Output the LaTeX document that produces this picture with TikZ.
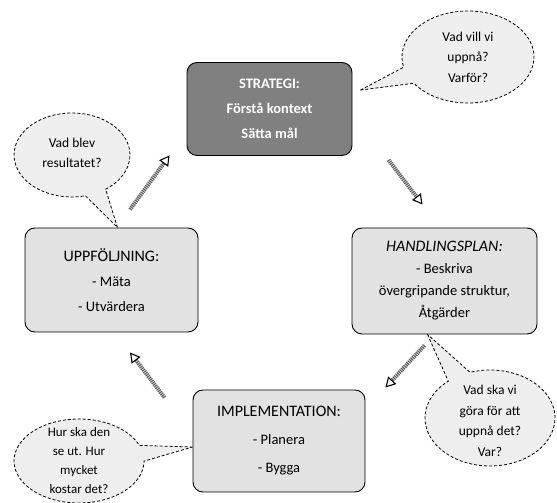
\documentclass[tikz,border=0pt]{standalone}
\usepackage{fontspec}
\setmainfont{Carlito}
\usetikzlibrary{calc, shapes.callouts, arrows.meta}
\definecolor{BoxGrey}{RGB}{226,226,226}
\definecolor{StratGrey}{RGB}{128,128,128}
\definecolor{BubbleGrey}{RGB}{238,238,238}
\definecolor{ArrowGrey}{RGB}{95,95,95}
\newcommand{\rubrik}[1]{{\fontsize{16}{24}\selectfont #1}}
\tikzset{
  fas/.style={draw=black, line width=0.9pt, rounded corners=10pt, fill=BoxGrey,
    align=center, inner sep=0pt, font=\fontsize{14.5}{25}\selectfont},
  bubbla/.style={ellipse callout, draw=black, line width=0.8pt, densely dashed,
    fill=BubbleGrey, callout pointer arc=22, inner sep=0pt},
  btext/.style={align=center, font=\fontsize{13.5}{20.5}\selectfont},
  cykel/.style={draw=ArrowGrey, line width=4pt, dash pattern=on 1.2pt off 0.8pt,
    -{Triangle[open, length=10pt, width=11pt, line width=1.1pt, color=black]}}
}

\begin{document}
\begin{tikzpicture}[x=1pt, y=1pt]
    \useasboundingbox (0,0) rectangle (557,503);

    % Strategi
    \node[fas, fill=StratGrey, text=white, font=\fontsize{14.5}{25}\selectfont\bfseries,
      minimum width=165, minimum height=93] (strat) at (269.5,394)
      {STRATEGI:\\Förstå kontext\\Sätta mål};

    % Handlingsplan
    \node[fas, font=\fontsize{14.5}{22}\selectfont, minimum width=185, minimum height=106]
      (hand) at (444.5,222)
      {\rubrik{\itshape HANDLINGSPLAN:}\\- Beskriva\\övergripande struktur,\\Åtgärder};

    % Uppföljning
    \node[fas, minimum width=173, minimum height=104] (upp) at (111.5,223)
      {\rubrik{UPPFÖLJNING:}\\- Mäta\\- Utvärdera};

    % Implementation
    \node[fas, font=\fontsize{14.5}{28}\selectfont, minimum width=172, minimum height=102]
      (impl) at (279,62)
      {\rubrik{IMPLEMENTATION:}\\- Planera\\- Bygga};

    % Pratbubblor
    \node[bubbla, minimum width=132, minimum height=92,
      callout absolute pointer={($(strat.north east)+(8,-28)$)}] (bVill) at (468,446) {};
    \node[btext] (tVill) at (bVill.center) {Vad vill vi\\uppnå?\\Varför?};

    \node[bubbla, minimum width=116, minimum height=84,
      callout absolute pointer={($(upp.north)+(6,0)$)}] (bBlev) at (72,348) {};
    \node[btext] (tBlev) at ($(bBlev.center)+(0,2)$) {Vad blev\\resultatet?};

    \node[bubbla, minimum width=130, minimum height=84,
      callout absolute pointer={($(impl.west)+(0,-6)$)}] (bHur) at (79,42) {};
    \node[btext, font=\fontsize{13}{19}\selectfont] (tHur) at (bHur.center)
      {Hur ska den\\se ut. Hur\\mycket\\kostar det?};

    \node[bubbla, minimum width=130, minimum height=96,
      callout absolute pointer={($(hand.south)+(-17,0)$)}] (bSka) at (490,85) {};
    \node[btext] (tSka) at ($(bSka.center)+(0,-3)$) {Vad ska vi\\göra för att\\uppnå det?\\Var?};

    % Pilar
    \draw[cykel] ($(strat.south east)+(36,-4)$) -- ($(hand.north)+(-22,23)$);
    \draw[cykel] ($(hand.south)+(-20,-11)$) -- ($(impl.north east)+(20,2)$);
    \draw[cykel] ($(impl.north west)+(-28,-8)$) -- ($(upp.south)+(18.5,-20)$);
    \draw[cykel] ($(upp.north)+(18.5,18)$) -- ($(strat.south west)+(-17,0.5)$);
\end{tikzpicture}
\end{document}
